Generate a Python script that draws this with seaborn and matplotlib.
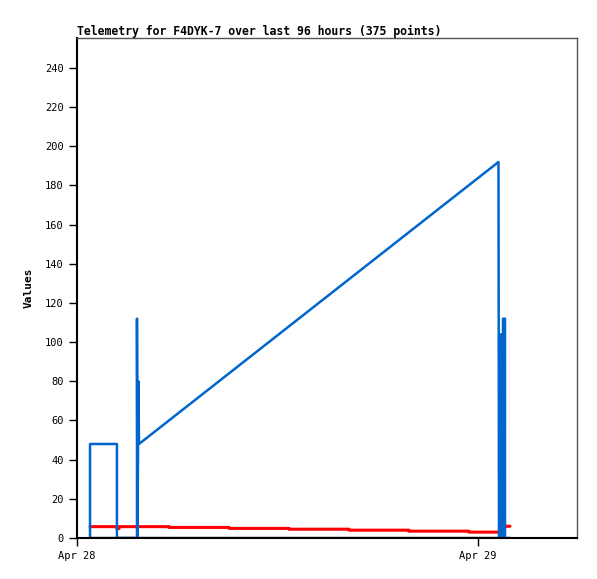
import pandas as pd
import matplotlib
matplotlib.use("Agg")
import matplotlib.pyplot as plt
import matplotlib.dates as mdates
import seaborn as sns

# hours after Apr 28 00:00, and the readings
blue_hours = [0.78, 0.78, 2.39, 2.39, 3.59, 3.59, 3.62, 3.68, 3.71,
              25.23, 25.26, 25.38, 25.38, 25.44, 25.47, 25.50, 25.50, 25.62, 25.62]
blue_values = [0, 48, 48, 0, 0, 112, 0, 80, 48,
               192, 0, 0, 104, 104, 0, 0, 112, 112, 0]

red_hours = [0.78, 2.39, 2.39, 2.51, 2.51, 5.51, 5.51, 9.10, 9.10, 12.69, 12.69,
             16.28, 16.28, 19.87, 19.87, 23.46, 23.46, 25.26, 25.32, 25.44, 25.56, 25.70, 25.92]
red_values = [5.8, 5.8, 4.8, 4.8, 5.8, 5.8, 5.4, 5.4, 4.9, 4.9, 4.5,
              4.5, 4.0, 4.0, 3.5, 3.5, 3.0, 3.0, 5.5, 6.0, 5.2, 6.0, 6.0]

black_hours = [0.78, 25.92]
black_values = [0, 0]

title = "Telemetry for F4DYK-7 over last 96 hours (375 points)"

base = pd.Timestamp("2024-04-28")

def frame(hours, values, name):
    return pd.DataFrame({"time": base + pd.to_timedelta(hours, unit="h"),
                         "value": values, "series": name})

df = pd.concat([frame(black_hours, black_values, "black"),
                frame(red_hours, red_values, "red"),
                frame(blue_hours, blue_values, "blue")], ignore_index=True)

sns.set_style("white")
plt.rcParams["font.family"] = ["DejaVu Sans Mono", "DejaVu Sans"]
plt.rcParams["text.color"] = "black"
plt.rcParams["axes.labelcolor"] = "black"

fig = plt.figure(figsize=(5.97, 5.79), dpi=100)
ax = fig.add_axes([77/597, 41/579, 500/597, 500/579])

palette = {"black": "#000000", "red": "#ff0000", "blue": "#0066cc"}
widths = {"black": 2.4, "red": 2.2, "blue": 1.8}
for name in ["black", "red", "blue"]:
    sub = df[df["series"] == name]
    sns.lineplot(data=sub, x="time", y="value", color=palette[name],
                 sort=False, estimator=None, linewidth=widths[name], ax=ax)

ax.set_xlim(base, base + pd.Timedelta(hours=29.93))
ax.set_ylim(0, 255.3)
ax.set_yticks(range(0, 241, 20))
ax.xaxis.set_major_locator(mdates.DayLocator())
ax.xaxis.set_major_formatter(mdates.DateFormatter("%b %d"))

ax.tick_params(axis="both", direction="out", length=6, width=1, labelsize=7.5,
               colors="black", left=True, bottom=True)
ax.set_xlabel("")
ax.set_ylabel("Values", fontsize=8, fontweight="bold", labelpad=8, color="black")
ax.set_title(title, loc="left", fontsize=8.3, fontweight="bold", pad=2, color="black")

for side in ["left", "bottom"]:
    ax.spines[side].set_color("black")
    ax.spines[side].set_linewidth(1.5)
for side in ["top", "right"]:
    ax.spines[side].set_color("#555555")
    ax.spines[side].set_linewidth(1)

fig.savefig("out.png", dpi=100)
